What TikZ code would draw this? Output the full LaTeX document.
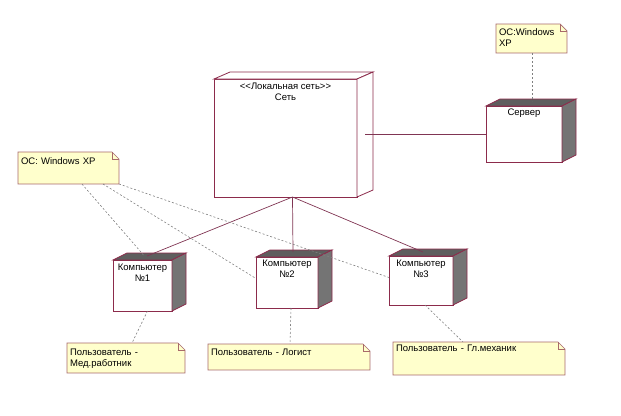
\documentclass[tikz,border=0pt]{standalone}
\usepackage{fontspec}
\setmainfont{Liberation Sans}
\usetikzlibrary{calc}

\definecolor{boxline}{HTML}{8C2B4B}
\definecolor{linkcol}{HTML}{803553}
\definecolor{notefill}{HTML}{FFFFCC}
\definecolor{noteedge}{HTML}{A86A6A}
\definecolor{sidegray}{HTML}{747474}
\definecolor{topgray}{HTML}{5E5E5E}

\begin{document}
\begin{tikzpicture}[x=1pt, y=-1pt,
    every node/.style={font=\fontsize{9.5}{11}\selectfont, inner sep=0pt, outer sep=0pt},
    devbox/.style={draw=boxline, fill=white, line width=0.8pt, align=center},
    notebox/.style={fill=notefill, align=left, anchor=north west, inner xsep=3pt},
    link/.style={draw=linkcol, line width=0.7pt},
    noteline/.style={draw=gray, dash pattern=on 2pt off 2pt, line width=0.6pt}
]
\useasboundingbox (0,0) rectangle (621,415);

% nodes
\node[devbox, minimum width=143, text height=21, text depth=97] (net) at (285.5,138) {{<}{<}Локальная сеть{>}{>}\\Сеть};
\node[devbox, minimum width=76, text height=9, text depth=47] (srv) at (524,134) {Сервер};
\node[devbox, minimum width=59, text height=21, text depth=30] (c1) at (142.5,285.5) {Компьютер\\№1};
\node[devbox, minimum width=62, text height=20, text depth=31] (c2) at (287,282.5) {Компьютер\\№2};
\node[devbox, minimum width=64, text height=21, text depth=28] (c3) at (421,280.5) {Компьютер\\№3};

% 3d faces
\draw[boxline, fill=white, line width=0.8pt] (net.north west) -- ++(16,-7) -- ($(net.north east)+(16,-7)$) -- (net.north east) -- cycle;
\draw[boxline, fill=white, line width=0.8pt] (net.north east) -- ++(16,-7) -- ($(net.south east)+(16,-7)$) -- (net.south east) -- cycle;
\foreach \n in {srv,c1,c2,c3} {
    \draw[boxline, fill=topgray, line width=0.8pt] (\n.north west) -- ++(14,-7) -- ($(\n.north east)+(14,-7)$) -- (\n.north east) -- cycle;
    \draw[boxline, fill=sidegray, line width=0.8pt] (\n.north east) -- ++(14,-7) -- ($(\n.south east)+(14,-7)$) -- (\n.south east) -- cycle;
}

% notes
\node[notebox, text width=95, minimum height=32, text height=12, text depth=20] (os1) at (18,152) {ОС: Windows XP};
\node[notebox, text width=65, minimum height=29, text height=11, text depth=18] (os2) at (496,24) {ОС:Windows\\XP};
\node[notebox, text width=112, minimum height=30, text height=12, text depth=18] (u1) at (67,343) {Пользователь -\\Мед.работник};
\node[notebox, text width=156, minimum height=26, text height=11, text depth=15] (u2) at (208,344) {Пользователь - Логист};
\node[notebox, text width=166, minimum height=33, text height=9, text depth=24] (u3) at (393,342) {Пользователь - Гл.механик};
\foreach \n in {os1,os2,u1,u2,u3} {
    \fill[white] ([xshift=-7pt]\n.north east) -- (\n.north east) -- ([yshift=-7pt]\n.north east) -- cycle;
    \draw[noteedge, line width=0.7pt] (\n.north west) -- ([xshift=-7pt]\n.north east) -- ([yshift=-7pt]\n.north east) -- (\n.south east) -- (\n.south west) -- cycle;
    \draw[noteedge, line width=0.5pt] ([xshift=-7pt]\n.north east) |- ([yshift=-7pt]\n.north east);
}

% connections
\draw[link] ([xshift=7pt]net.south) -- ([xshift=4.5pt,yshift=4pt]c1.north);
\draw[link] ([xshift=7pt]net.south) -- ([xshift=6pt,yshift=5pt]c2.north);
\draw[link] ([xshift=7pt]net.south) -- ([xshift=2pt,yshift=4pt]c3.north);
\draw[link] ([xshift=8pt,yshift=4pt]net.east) -- (srv.west);

\draw[noteline] ([xshift=64pt]os1.south west) -- ([xshift=1pt,yshift=5pt]c1.north);
\draw[noteline] ([xshift=85pt]os1.south west) -- ([yshift=4pt]c2.west);
\draw[noteline] (os1.south east) -- ([yshift=3pt]c3.west);
\draw[noteline] ([xshift=36pt]os2.south west) -- ([xshift=8pt,yshift=5pt]srv.north);
\draw[noteline] ([xshift=5pt]c1.south) -- ([xshift=65pt]u1.north west);
\draw[noteline] ([xshift=4pt]c2.south) -- ([xshift=82pt]u2.north west);
\draw[noteline] ([xshift=4pt]c3.south) -- ([xshift=70pt]u3.north west);
\end{tikzpicture}
\end{document}
